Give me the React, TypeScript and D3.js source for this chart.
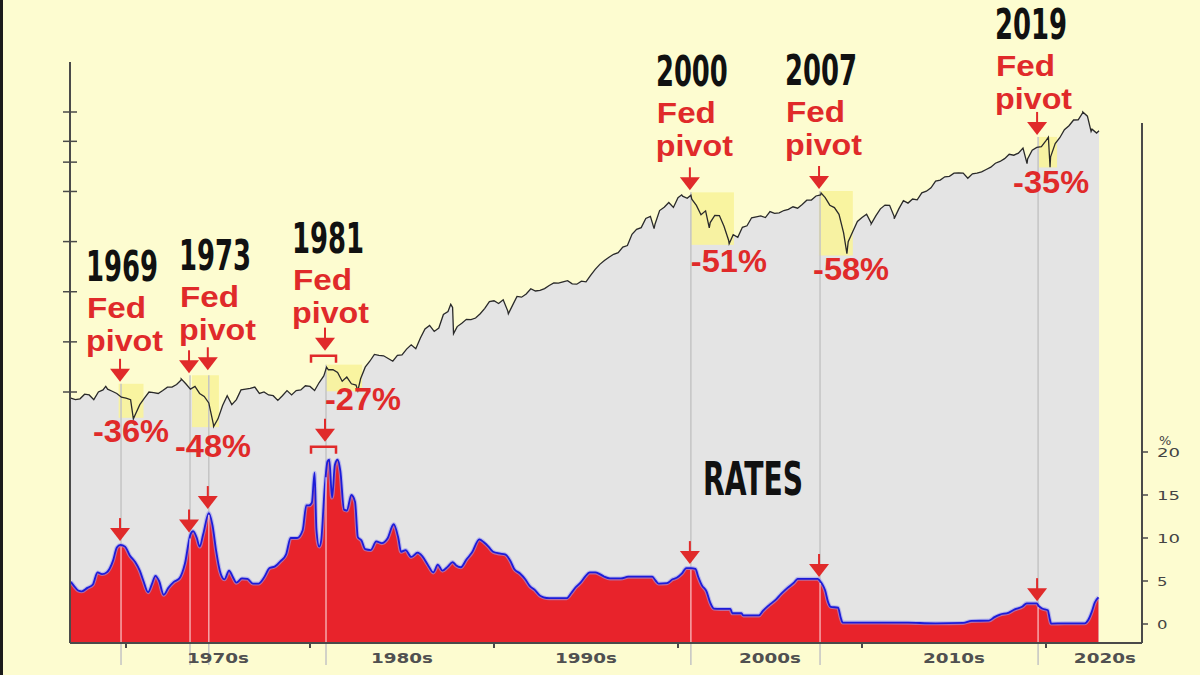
import React from "react";
import * as d3 from "d3";

// S&P 500, quarter-end closes from 1967 Q1
const stockStart = 1967;
const stockQuarterly = [
  90, 91, 97, 96, 90, 100, 103, 104, 101, 98, 93, 92,
  90, 73, 84, 92, 100, 99, 98, 102, 107, 107, 111, 118,
  112, 104, 108, 98, 94, 86, 64, 69, 83, 95, 84, 90,
  103, 104, 105, 107, 98, 100, 96, 95, 89, 95, 102, 96,
  102, 103, 109, 108, 102, 114, 125, 136, 136, 131, 116, 123,
  112, 110, 120, 141, 153, 168, 166, 165, 159, 153, 166, 167,
  181, 192, 182, 211, 239, 251, 231, 242, 292, 304, 322, 247,
  259, 273, 272, 278, 295, 318, 349, 353, 340, 358, 306, 330,
  375, 371, 388, 417, 404, 408, 418, 436, 452, 450, 459, 466,
  446, 444, 463, 459, 501, 545, 584, 616, 645, 671, 687, 741,
  757, 885, 947, 970, 1102, 1134, 1017, 1229, 1286, 1373, 1283, 1469,
  1499, 1455, 1437, 1320, 1160, 1224, 1041, 1148, 1147, 990, 815, 880,
  848, 975, 996, 1112, 1126, 1141, 1115, 1212, 1181, 1191, 1229, 1248,
  1295, 1270, 1336, 1418, 1421, 1503, 1527, 1468, 1323, 1280, 1166, 903,
  798, 919, 1057, 1115, 1169, 1031, 1141, 1258, 1326, 1321, 1131, 1258,
  1409, 1362, 1441, 1426, 1569, 1606, 1682, 1848, 1872, 1960, 1972, 2059,
  2068, 2063, 1920, 2044, 2060, 2099, 2168, 2239, 2363, 2423, 2519, 2674,
  2641, 2718, 2914, 2507, 2834, 2942, 2977, 3231, 2585, 3100, 3363, 3756,
  3973, 4298, 4308, 4766, 4530, 3785, 3586,
];
// peaks and troughs between the quarter ends
const stockTurns: [number, number][] = [
  [1967.0, 92], [1968.9, 108], [1970.4, 69], [1973.0, 120], [1974.76, 62],
  [1980.9, 141], [1982.6, 102], [1987.65, 336], [1987.8, 224], [1990.78, 295],
  [1998.7, 957], [2000.2, 1527], [2000.7, 1520], [2001.7, 966], [2002.78, 777],
  [2007.78, 1565], [2009.18, 677], [2010.5, 1022], [2011.75, 1099],
  [2018.97, 2351], [2020.13, 3386], [2020.22, 2237], [2022.0, 4796],
  [2022.45, 3667], [2022.88, 3700],
];
const stockTicks = [100, 200, 400, 800, 1600, 2400, 3200, 4800];

// Fed funds rate, %
const fedFunds: [number, number][] = [
  [1967.0, 4.9], [1967.15, 4.5], [1967.4, 3.9], [1967.6, 3.8], [1967.9, 4.2],
  [1968.2, 4.6], [1968.45, 6.0], [1968.7, 5.8], [1968.95, 6.0], [1969.3, 7.4],
  [1969.5, 8.9], [1969.7, 9.2], [1969.95, 9.0], [1970.2, 8.0], [1970.5, 7.2],
  [1970.75, 6.2], [1970.95, 5.0], [1971.2, 3.7], [1971.4, 4.6], [1971.6, 5.6],
  [1971.8, 5.0], [1972.05, 3.4], [1972.3, 4.2], [1972.6, 4.9], [1972.9, 5.3],
  [1973.2, 7.0], [1973.5, 10.4], [1973.65, 10.8], [1973.85, 10.0], [1974.0, 9.0],
  [1974.2, 10.5], [1974.5, 12.9], [1974.7, 11.5], [1974.9, 8.5], [1975.1, 6.2],
  [1975.35, 5.2], [1975.6, 6.2], [1975.8, 5.5], [1976.0, 4.8], [1976.3, 5.3],
  [1976.6, 5.25], [1976.9, 4.7], [1977.2, 4.7], [1977.5, 5.4], [1977.8, 6.5],
  [1978.1, 6.7], [1978.4, 7.3], [1978.7, 8.1], [1978.95, 10.0], [1979.3, 10.0],
  [1979.6, 10.9], [1979.8, 13.8], [1979.95, 13.8], [1980.1, 14.1], [1980.25, 17.6],
  [1980.35, 11.0], [1980.5, 9.0], [1980.6, 9.6], [1980.8, 15.9], [1980.95, 18.9],
  [1981.05, 19.1], [1981.2, 14.7], [1981.35, 18.5], [1981.5, 19.1], [1981.65, 17.8],
  [1981.85, 13.3], [1982.0, 13.2], [1982.25, 15.0], [1982.45, 14.2], [1982.6, 10.1],
  [1982.8, 9.7], [1983.0, 8.7], [1983.3, 8.6], [1983.6, 9.6], [1983.9, 9.4],
  [1984.2, 9.9], [1984.55, 11.6], [1984.8, 10.0], [1984.95, 8.4], [1985.2, 8.6],
  [1985.5, 7.8], [1985.85, 8.3], [1986.1, 7.9], [1986.4, 6.9], [1986.7, 6.0],
  [1986.95, 6.9], [1987.2, 6.2], [1987.5, 6.7], [1987.75, 7.2], [1987.95, 6.8],
  [1988.2, 6.6], [1988.5, 7.5], [1988.8, 8.3], [1989.2, 9.85], [1989.45, 9.5],
  [1989.7, 9.0], [1989.95, 8.4], [1990.3, 8.2], [1990.6, 8.1], [1990.9, 7.3],
  [1991.1, 6.4], [1991.4, 5.9], [1991.7, 5.2], [1991.95, 4.4], [1992.2, 4.0],
  [1992.5, 3.3], [1992.7, 3.1], [1993.0, 3.0], [1993.5, 3.0], [1993.95, 3.0],
  [1994.2, 3.6], [1994.45, 4.3], [1994.7, 4.8], [1994.95, 5.5], [1995.2, 6.0],
  [1995.5, 6.0], [1995.75, 5.8], [1996.0, 5.5], [1996.3, 5.3], [1996.9, 5.3],
  [1997.3, 5.5], [1998.6, 5.5], [1998.8, 5.0], [1998.95, 4.7], [1999.4, 4.75],
  [1999.7, 5.2], [1999.95, 5.4], [2000.2, 5.85], [2000.45, 6.5], [2000.7, 6.5],
  [2000.95, 6.4], [2001.1, 5.5], [2001.3, 4.5], [2001.55, 3.8], [2001.75, 2.5],
  [2001.95, 1.8], [2002.3, 1.75], [2002.85, 1.75], [2002.95, 1.25], [2003.45, 1.25],
  [2003.55, 1.0], [2004.4, 1.0], [2004.6, 1.5], [2004.95, 2.2], [2005.3, 2.8],
  [2005.6, 3.5], [2005.95, 4.2], [2006.3, 4.8], [2006.5, 5.25], [2007.6, 5.25],
  [2007.72, 5.0], [2007.85, 4.6], [2008.0, 3.9], [2008.15, 2.6], [2008.3, 2.0],
  [2008.7, 1.9], [2008.85, 0.7], [2008.95, 0.16], [2009.5, 0.16], [2011.0, 0.17],
  [2012.5, 0.15], [2014.0, 0.08], [2015.5, 0.13], [2015.95, 0.36], [2016.9, 0.4],
  [2017.2, 0.8], [2017.5, 1.1], [2017.95, 1.3], [2018.3, 1.7], [2018.7, 2.0],
  [2018.95, 2.4], [2019.5, 2.4], [2019.6, 2.1], [2019.8, 1.8], [2020.1, 1.6],
  [2020.2, 0.65], [2020.28, 0.05], [2021.0, 0.08], [2022.1, 0.08], [2022.3, 0.5],
  [2022.5, 1.5], [2022.65, 2.5], [2022.85, 3.1],
];
const rateTicks = [0, 5, 10, 15, 20];

const decadeTicks = [1970, 1980, 1990, 2000, 2010, 2020];
const decadeLabels = ["1970s", "1980s", "1990s", "2000s", "2010s", "2020s"];
const decadeLabelAt = [1975, 1985, 1995, 2005, 2015, 2023.2];

// Fed pivots
const pivotYears = ["1969", "1973", "1981", "2000", "2007", "2019"];
const pivotDates = [[1969.73], [1973.48, 1974.5], [1980.87], [2000.7], [2007.72], [2019.57]];
const drawdowns = ["-36%", "-48%", "-27%", "-51%", "-58%", "-35%"];
const drawdownSpan: [number, number][] = [
  [1969.6, 1970.95], [1973.59, 1975.05], [1980.87, 1982.83],
  [2000.7, 2003.04], [2007.66, 2009.5], [2019.62, 2020.6],
];
const drawdownLevels: [number, number][] = [
  [112, 70], [126, 61.5], [146, 101], [1580, 765], [1610, 660], [3400, 2230],
];

// text placement (pixels relative to the first pivot line)
const noteLayout = [
  { dx: -35, fedY: 318, pctDx: -28, pctY: 442 },
  { dx: -11, fedY: 307, pctDx: -15, pctY: 457 },
  { dx: -34, fedY: 290, pctDx: -1, pctY: 410 },
  { dx: -35, fedY: 123, pctDx: 0, pctY: 272 },
  { dx: -35, fedY: 122, pctDx: -7, pctY: 280 },
  { dx: -43, fedY: 76, pctDx: -25, pctY: 193 },
];

const RED = "#e02a2a";
const NARROW = "'Liberation Sans Narrow', 'DejaVu Sans Condensed', sans-serif";
const SANS = "'Liberation Sans', Arial, sans-serif";

function Arrow({ x, tip }: { x: number; tip: number }) {
  return (
    <g>
      <line x1={x} x2={x} y1={tip - 23} y2={tip - 10} stroke={RED} strokeWidth={2} />
      <path d={`M${x - 10},${tip - 13}L${x + 10},${tip - 13}L${x},${tip}Z`} fill={RED} />
    </g>
  );
}

function Bracket({ x0, x1, y }: { x0: number; x1: number; y: number }) {
  return (
    <path
      d={`M${x0},${y + 7}V${y}H${x1}V${y + 7}`}
      fill="none"
      stroke={RED}
      strokeWidth={2.5}
    />
  );
}

export default function App() {
  const W = 1200;
  const H = 675;
  const left = 70;
  const right = 1142;
  const bottom = 643;

  const x = d3.scaleLinear().domain([1970, 2020]).range([126, 1046]);
  const yS = d3.scaleLog().domain([100, 4800]).range([392, 112]);
  const yR = d3.scaleLinear().domain([0, 20]).range([624, 452]);

  const stock: [number, number][] = [
    ...stockQuarterly.map((v, i) => [stockStart + (i + 1) * 0.25, v] as [number, number]),
    ...stockTurns,
  ].sort((a, b) => a[0] - b[0]);

  const stockArea = d3.area<[number, number]>()
    .x((d) => x(d[0]))
    .y0(bottom)
    .y1((d) => yS(d[1]));
  const stockLine = d3.line<[number, number]>()
    .x((d) => x(d[0]))
    .y((d) => yS(d[1]));

  const rateArea = d3.area<[number, number]>()
    .x((d) => x(d[0]))
    .y0(bottom)
    .y1((d) => yR(d[1]))
    .curve(d3.curveMonotoneX);
  const rateLine = d3.line<[number, number]>()
    .x((d) => x(d[0]))
    .y((d) => yR(d[1]))
    .curve(d3.curveMonotoneX);

  const rateAt = (t: number) => {
    const i = d3.bisector((d: [number, number]) => d[0]).left(fedFunds, t);
    if (i <= 0) return fedFunds[0][1];
    if (i >= fedFunds.length) return fedFunds[fedFunds.length - 1][1];
    const [t0, v0] = fedFunds[i - 1];
    const [t1, v1] = fedFunds[i];
    return v0 + ((v1 - v0) * (t - t0)) / (t1 - t0);
  };
  const rateMax = (t: number, w: number) =>
    d3.max(fedFunds.filter((d) => Math.abs(d[0] - t) <= w), (d) => d[1]) ?? rateAt(t);

  return (
    <svg
      width={W}
      height={H}
      style={{ position: "absolute", left: 0, top: 0, display: "block" }}
    >
      <rect width={W} height={H} fill="#fdfcd0" />
      <rect width={3} height={H} fill="#1b1b1b" />

      {/* stock area */}
      <path d={stockArea(stock) ?? ""} fill="#e4e4e4" />

      {/* drawdown highlights */}
      {drawdownSpan.map(([a, b], i) => (
        <rect
          key={"hl" + i}
          x={x(a)}
          y={yS(drawdownLevels[i][0])}
          width={x(b) - x(a)}
          height={yS(drawdownLevels[i][1]) - yS(drawdownLevels[i][0])}
          fill="#f8f39a"
          opacity={0.9}
        />
      ))}

      {/* pivot lines */}
      {pivotDates.map((ds, i) =>
        ds.map((t, j) => (
          <line
            key={`pl${i}-${j}`}
            x1={x(t)}
            x2={x(t)}
            y1={yS(drawdownLevels[i][0])}
            y2={665}
            stroke="#c4c4c4"
            strokeWidth={1.5}
          />
        ))
      )}

      {/* rates */}
      <path d={rateArea(fedFunds) ?? ""} fill="#e8232b" />
      <path d={rateLine(fedFunds) ?? ""} fill="none" stroke="#9a9af0" strokeWidth={4} opacity={0.6} />
      <path d={rateLine(fedFunds) ?? ""} fill="none" stroke="#1c1cd8" strokeWidth={1.8} />
      {pivotDates.map((ds, i) =>
        ds.map((t, j) => (
          <line
            key={`pw${i}-${j}`}
            x1={x(t)}
            x2={x(t)}
            y1={yR(rateAt(t)) + 2}
            y2={bottom}
            stroke="#ffffff"
            strokeOpacity={0.6}
            strokeWidth={1.5}
          />
        ))
      )}

      {/* stock line */}
      <path d={stockLine(stock) ?? ""} fill="none" stroke="#2a2a2a" strokeWidth={1.3} />

      {/* axes */}
      <g stroke="#4a4a4a" strokeWidth={2} fill="none">
        <line x1={left} x2={left} y1={62} y2={bottom} />
        <line x1={left} x2={right} y1={bottom} y2={bottom} />
        <line x1={right} x2={right} y1={123} y2={bottom} />
        {stockTicks.map((v) => (
          <line key={"st" + v} x1={left - 7} x2={left + 7} y1={yS(v)} y2={yS(v)} strokeWidth={1.5} />
        ))}
        {decadeTicks.map((d) => (
          <line key={"dt" + d} x1={x(d)} x2={x(d)} y1={bottom} y2={bottom + 5} />
        ))}
        {rateTicks.map((v) => (
          <line key={"rt" + v} x1={right} x2={right + 6} y1={yR(v)} y2={yR(v)} strokeWidth={1.5} />
        ))}
      </g>
      {decadeLabels.map((s, i) => (
        <text
          key={s}
          x={x(decadeLabelAt[i]) - 31}
          y={663}
          fontFamily="'DejaVu Sans', sans-serif"
          fontSize={14}
          fontWeight="bold"
          fill="#505050"
          textLength={62}
          lengthAdjust="spacingAndGlyphs"
        >
          {s}
        </text>
      ))}
      {rateTicks.map((v) => (
        <text
          key={"rl" + v}
          x={1157}
          y={yR(v) + 5}
          fontFamily="'DejaVu Sans', sans-serif"
          fontSize={12}
          fill="#444"
          textLength={String(v).length * 12.5 - 2}
          lengthAdjust="spacingAndGlyphs"
        >
          {v}
        </text>
      ))}
      <text x={1159} y={445} fontFamily="'DejaVu Sans', sans-serif" fontSize={13} fill="#444">
        %
      </text>

      {/* annotations */}
      {pivotYears.map((yr, i) => {
        const px = x(pivotDates[i][0]);
        const L = noteLayout[i];
        const boxTop = yS(drawdownLevels[i][0]);
        const bracketed = i === 2;
        return (
          <g key={"note" + yr}>
            <text
              x={px + L.dx}
              y={L.fedY - 37}
              fontFamily={NARROW}
              fontWeight="bold"
              fontSize={42}
              fill="#111"
              textLength={72}
              lengthAdjust="spacingAndGlyphs"
            >
              {yr}
            </text>
            <text x={px + L.dx + 1} y={L.fedY} fontFamily={SANS} fontWeight="bold" fontSize={29} fill={RED}
              textLength={59} lengthAdjust="spacingAndGlyphs">
              Fed
            </text>
            <text x={px + L.dx} y={L.fedY + 33} fontFamily={SANS} fontWeight="bold" fontSize={29} fill={RED}
              textLength={77} lengthAdjust="spacingAndGlyphs">
              pivot
            </text>
            <text x={px + L.pctDx} y={L.pctY} fontFamily={SANS} fontWeight="bold" fontSize={31} fill={RED}
              textLength={76} lengthAdjust="spacingAndGlyphs">
              {drawdowns[i]}
            </text>
            {pivotDates[i].map((t, j) => {
              const tx = x(t);
              if (bracketed) {
                const rTop = yR(rateMax(t, 0.4));
                return (
                  <g key={"ar" + j}>
                    <Bracket x0={tx - 15} x1={tx + 10} y={boxTop - 9} />
                    <Arrow x={tx - 1} tip={boxTop - 14} />
                    <Bracket x0={tx - 15} x1={tx + 10} y={rTop - 13} />
                    <Arrow x={tx - 1} tip={rTop - 18} />
                  </g>
                );
              }
              return (
                <g key={"ar" + j}>
                  <Arrow x={tx - 1} tip={boxTop - 2 + j * -3} />
                  <Arrow x={tx - 1} tip={yR(rateAt(t)) - 4} />
                </g>
              );
            })}
          </g>
        );
      })}

      <text
        x={703}
        y={495}
        fontFamily={NARROW}
        fontWeight="bold"
        fontSize={46}
        fill="#111"
        textLength={100}
        lengthAdjust="spacingAndGlyphs"
      >
        RATES
      </text>
    </svg>
  );
}
